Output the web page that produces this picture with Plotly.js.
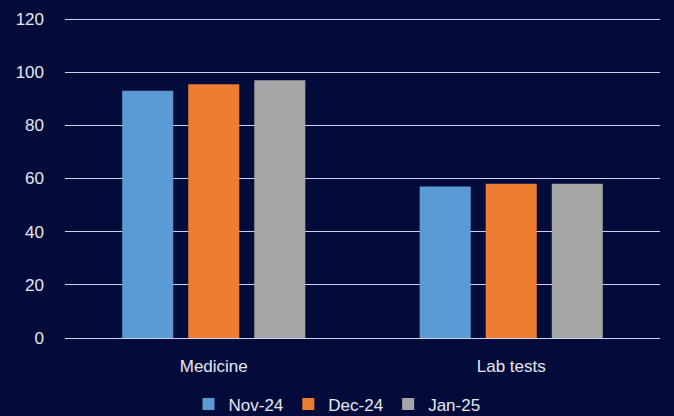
<!DOCTYPE html>
<html>
<head>
<meta charset="utf-8">
<script src="https://cdn.plot.ly/plotly-3.0.1.min.js"></script>
<style>html,body{margin:0;padding:0;background:#030b3b;}</style>
</head>
<body>
<div id="chart" style="width:674px;height:416px;"></div>
<script>
const categories = ["Medicine", "Lab tests"];
const seriesNames = ["Nov-24", "Dec-24", "Jan-25"];
const nov24 = [93, 57];
const dec24 = [95.5, 58];
const jan25 = [97, 58];
const yTicks = [0, 20, 40, 60, 80, 100, 120];

const colors = ["#5b9bd5", "#ed7d31", "#a5a5a5"];
const values = [nov24, dec24, jan25];
const traces = seriesNames.map((n, i) => ({
  type: "bar", name: n, x: categories, y: values[i],
  marker: {color: colors[i]}, hoverinfo: "none", showlegend: false
}));
// legend entries with small square swatches
seriesNames.forEach((n, i) => traces.push({
  type: "scatter", mode: "markers", name: n, x: [null], y: [null],
  marker: {symbol: "square", size: 9, color: colors[i]}, hoverinfo: "none", showlegend: true
}));

const layout = {
  width: 674, height: 416,
  paper_bgcolor: "#030b3b", plot_bgcolor: "#030b3b",
  margin: {l: 65, r: 14, t: 18, b: 78},
  font: {family: "Liberation Sans, Arial, sans-serif", size: 17, color: "#e6e8f0"},
  barmode: "group", bargap: 0.334, bargroupgap: 0.227,
  xaxis: {showgrid: false, zeroline: false, showline: false, ticks: "",
          tickfont: {size: 17, color: "#e6e8f0"}, ticklabelstandoff: 16},
  yaxis: {range: [0, 120.4], tickvals: yTicks, showgrid: true, gridcolor: "#cdd3ea", gridwidth: 1,
          zeroline: true, zerolinecolor: "#cdd3ea", zerolinewidth: 1, ticks: "", ticklen: 0,
          tickfont: {size: 17, color: "#e6e8f0"}, ticklabelstandoff: 20},
  showlegend: true,
  legend: {orientation: "h", x: 0.5, xref: "container", xanchor: "center",
           y: 0.028, yref: "container", yanchor: "middle",
           font: {size: 17, color: "#e6e8f0"}, itemwidth: 30, traceorder: "normal",
           itemsizing: "constant", tracegroupgap: 0}
};
Plotly.newPlot("chart", traces, layout, {staticPlot: true});
</script>
</body>
</html>
